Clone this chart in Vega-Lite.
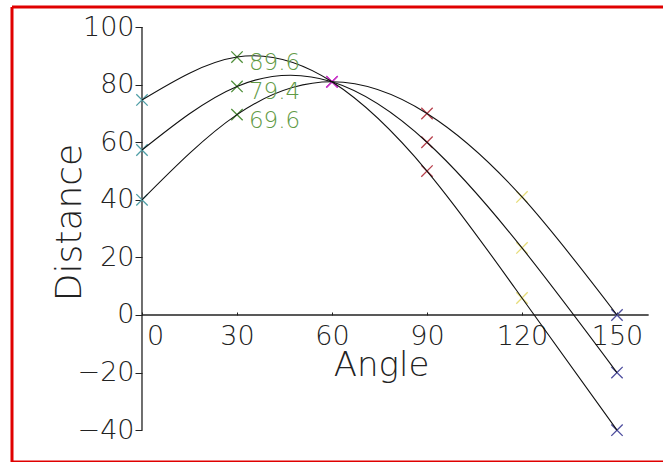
{
  "$schema": "https://vega.github.io/schema/vega-lite/v6.json",
  "width": 651,
  "height": 455,
  "autosize": "none",
  "padding": {"left": 12, "top": 7, "right": 0, "bottom": 0},
  "background": "white",
  "config": {
    "view": {"stroke": "#e00000", "strokeWidth": 3, "strokeDash": [651, 455, 1106, 0]},
    "text": {"font": "DejaVu Sans"}
  },
  "datasets": {
    "points": [
      {"curve": "A", "x": 0, "y": 74.7},
      {"curve": "A", "x": 30, "y": 89.6},
      {"curve": "A", "x": 60, "y": 81},
      {"curve": "A", "x": 90, "y": 50},
      {"curve": "A", "x": 120, "y": 5.9},
      {"curve": "A", "x": 150, "y": -40},
      {"curve": "B", "x": 0, "y": 57.3},
      {"curve": "B", "x": 30, "y": 79.4},
      {"curve": "B", "x": 60, "y": 81},
      {"curve": "B", "x": 90, "y": 60},
      {"curve": "B", "x": 120, "y": 23.3},
      {"curve": "B", "x": 150, "y": -20},
      {"curve": "C", "x": 0, "y": 40},
      {"curve": "C", "x": 30, "y": 69.6},
      {"curve": "C", "x": 60, "y": 81},
      {"curve": "C", "x": 90, "y": 70},
      {"curve": "C", "x": 120, "y": 41},
      {"curve": "C", "x": 150, "y": 0}
    ],
    "axes": [
      {"x": 0, "x2": 160, "y": 0, "y2": 0},
      {"x": 0, "x2": 0, "y": -40, "y2": 100}
    ]
  },
  "encoding": {
    "x": {
      "field": "x",
      "type": "quantitative",
      "scale": {"domain": [-41.05, 164.53], "nice": false, "zero": false},
      "axis": {
        "orient": "bottom",
        "offset": -147,
        "values": [0, 30, 60, 90, 120, 150],
        "domain": false,
        "grid": false,
        "ticks": true,
        "tickSize": -3,
        "tickColor": "#222222",
        "labelFont": "DejaVu Sans",
        "labelFontWeight": 200,
        "labelFontSize": 27,
        "labelColor": "#222222",
        "labelBaseline": "alphabetic",
        "labelPadding": 32,
        "labelAlign": "center",
        "labelOffset": {"condition": {"test": "datum.value === 0", "value": 13}, "value": 0},
        "labelFlush": false,
        "labelOverlap": false,
        "title": "Angle",
        "titleFont": "DejaVu Sans",
        "titleFontWeight": 200,
        "titleFontSize": 34,
        "titleColor": "#222222",
        "titleX": 369,
        "titleY": 60,
        "titleAlign": "center",
        "titleBaseline": "alphabetic"
      }
    },
    "y": {
      "field": "y",
      "type": "quantitative",
      "scale": {"domain": [-51.06, 106.98], "nice": false, "zero": false},
      "axis": {
        "orient": "left",
        "offset": -130,
        "values": [-40, -20, 0, 20, 40, 60, 80, 100],
        "domain": false,
        "grid": false,
        "ticks": true,
        "tickSize": 7,
        "tickColor": "#222222",
        "labelFont": "DejaVu Sans",
        "labelFontWeight": 200,
        "labelFontSize": 27,
        "labelColor": "#222222",
        "labelBaseline": "middle",
        "labelPadding": 1,
        "labelOverlap": false,
        "title": "Distance",
        "titleFont": "DejaVu Sans",
        "titleFontWeight": 200,
        "titleFontSize": 36,
        "titleColor": "#222222",
        "titleAngle": 270,
        "titleX": -62,
        "titleY": 215,
        "titleAlign": "center",
        "titleBaseline": "alphabetic"
      }
    }
  },
  "layer": [
    {
      "data": {"name": "axes"},
      "mark": {"type": "rule", "color": "#222222", "strokeWidth": 1.3},
      "encoding": {
        "x2": {"field": "x2"},
        "y2": {"field": "y2"}
      }
    },
    {
      "data": {"name": "points"},
      "mark": {"type": "point", "shape": "M-1,-1L1,1M1,-1L-1,1", "filled": false, "size": 130, "strokeWidth": 1.3, "opacity": 1},
      "encoding": {
        "color": {
          "field": "x",
          "type": "nominal",
          "scale": {"domain": [0, 30, 60, 90, 120, 150], "range": ["#4f9ea6", "#4f8f3a", "#c936c9", "#b8404c", "#e6dc78", "#4d4d9e"]},
          "legend": null
        }
      }
    },
    {
      "data": {"name": "points"},
      "mark": {"type": "line", "color": "#111111", "strokeWidth": 1.1, "interpolate": "natural"},
      "encoding": {
        "detail": {"field": "curve"}
      }
    },
    {
      "data": {"name": "points"},
      "transform": [{"filter": "datum.x === 30"}],
      "mark": {"type": "text", "align": "left", "baseline": "alphabetic", "dx": 12, "dy": 13, "fontSize": 23, "fontWeight": 200, "font": "DejaVu Sans", "color": "#5f9a45"},
      "encoding": {
        "text": {"field": "y", "type": "quantitative", "format": ".1f"}
      }
    }
  ]
}
